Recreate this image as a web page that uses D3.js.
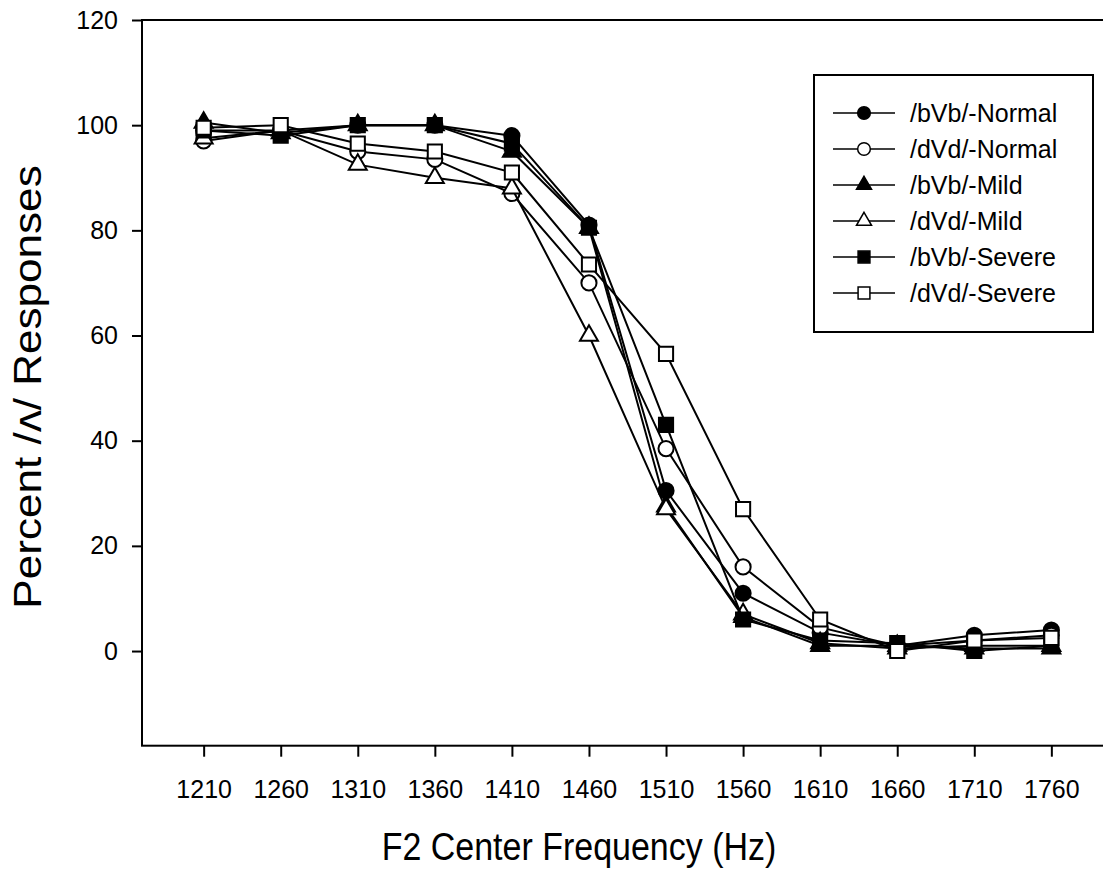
<!DOCTYPE html>
<html>
<head>
<meta charset="utf-8">
<script src="https://d3js.org/d3.v7.min.js"></script>
<style>
    body { margin: 0; background: #fff; }
    text { font-family: "Liberation Sans", Arial, sans-serif; fill: #000; }
</style>
</head>
<body>
<svg id="drawing_region"></svg>
<script>
// F2 center frequencies (Hz)
const freqs = [1210, 1260, 1310, 1360, 1410, 1460, 1510, 1560, 1610, 1660, 1710, 1760];

// percent /ʌ/ responses per condition
const bVbNormal = [99, 99, 100, 100, 98, 81, 30.5, 11, 3.5, 1, 3, 4];
const dVdNormal = [97, 99, 95, 93.5, 87, 70, 38.5, 16, 4.5, 1, 2, 3];
const bVbMild   = [100.5, 98.5, 100, 100, 95, 80.5, 27.5, 6.5, 1, 1, 0.5, 0.5];
const dVdMild   = [97.5, 99, 92.5, 90, 88, 60, 27, 7, 1.5, 0.5, 1, 1];
const bVbSevere = [99, 98, 100, 100, 96.5, 80.5, 43, 6, 2, 1.5, 0, 1];
const dVdSevere = [99.5, 100, 96.5, 95, 91, 73.5, 56.5, 27, 6, 0, 2, 2.5];

const seriesNames = ["/bVb/-Normal", "/dVd/-Normal", "/bVb/-Mild", "/dVd/-Mild", "/bVb/-Severe", "/dVd/-Severe"];
const seriesValues = [bVbNormal, dVdNormal, bVbMild, dVdMild, bVbSevere, dVdSevere];
const yTicks = [0, 20, 40, 60, 80, 100, 120];

// marker look per series: shape + filled?
const markers = [
    {shape: d3.symbolCircle,   size: 180, fill: "#000"},
    {shape: d3.symbolCircle,   size: 180, fill: "#fff"},
    {shape: d3.symbolTriangle, size: 140, fill: "#000"},
    {shape: d3.symbolTriangle, size: 140, fill: "#fff"},
    {shape: d3.symbolSquare,   size: 200, fill: "#000"},
    {shape: d3.symbolSquare,   size: 200, fill: "#fff"}
];

class LineChart {

    constructor( config, data ) {
        this.config = config;
        this.data = data;
        this.init();
    }

    init() {
        let self = this;

        self.svg = d3.select( self.config.parent )
            .attr('width', self.config.width)
            .attr('height', self.config.height);

        self.chart = self.svg.append('g')
            .attr('transform', `translate(${self.config.margin.left}, ${self.config.margin.top})`);

        self.inner_width = self.config.plot_width;
        self.inner_height = self.config.plot_height;

        self.xscale = d3.scaleLinear()
            .domain( [1170, 1800] )
            .range( [0, self.inner_width] );

        self.yscale = d3.scaleLinear()
            .domain( [-18, 120] )
            .range( [self.inner_height, 0] );

        self.xaxis = d3.axisBottom( self.xscale )
            .tickValues( freqs )
            .tickFormat( d3.format('d') )
            .tickSize(11)
            .tickPadding(24)
            .tickSizeOuter(0);

        self.yaxis = d3.axisLeft( self.yscale )
            .tickValues( yTicks )
            .tickSize(10)
            .tickPadding(14)
            .tickSizeOuter(0);
    }

    render() {
        let self = this;

        // frame (right side runs off the page)
        self.chart.append('rect')
            .attr('x', 0)
            .attr('y', 0)
            .attr('width', self.inner_width)
            .attr('height', self.inner_height)
            .attr('fill', 'none')
            .attr('stroke', '#000')
            .attr('stroke-width', 2);

        const xg = self.chart.append('g')
            .attr('transform', `translate(0, ${self.inner_height})`)
            .call( self.xaxis );

        const yg = self.chart.append('g')
            .call( self.yaxis );

        [xg, yg].forEach( g => {
            g.select('.domain').remove();
            g.selectAll('line').attr('stroke', '#000').attr('stroke-width', 2);
            g.selectAll('text')
                .attr('font-size', '25px')
                .attr('font-family', '"Liberation Sans", Arial, sans-serif')
                .attr('fill', '#000');
        });

        const line = d3.line()
            .x( d => self.xscale(d.x) )
            .y( d => self.yscale(d.y) );

        self.data.forEach( (s, i) => {
            const pts = s.values.map( (v, j) => ({x: freqs[j], y: v}) );
            self.chart.append('path')
                .attr('d', line(pts))
                .attr('fill', 'none')
                .attr('stroke', '#000')
                .attr('stroke-width', 2);

            const sym = d3.symbol().type(markers[i].shape).size(markers[i].size);
            self.chart.selectAll(null)
                .data(pts)
                .enter()
                .append('path')
                .attr('d', sym)
                .attr('transform', d => `translate(${self.xscale(d.x)}, ${self.yscale(d.y)})`)
                .attr('fill', markers[i].fill)
                .attr('stroke', '#000')
                .attr('stroke-width', 2);
        });

        // legend
        const lg = self.svg.append('g')
            .attr('transform', 'translate(814, 75)');

        lg.append('rect')
            .attr('width', 279)
            .attr('height', 257)
            .attr('fill', '#fff')
            .attr('stroke', '#000')
            .attr('stroke-width', 2);

        const rows = lg.selectAll('g.row')
            .data(self.data)
            .enter()
            .append('g')
            .attr('class', 'row')
            .attr('transform', (d, i) => `translate(0, ${38 + i * 36})`);

        rows.append('line')
            .attr('x1', 19)
            .attr('x2', 81)
            .attr('stroke', '#000')
            .attr('stroke-width', 1.5);

        rows.append('path')
            .attr('d', (d, i) => d3.symbol().type(markers[i].shape).size(markers[i].size * 0.7)())
            .attr('transform', 'translate(50, 0)')
            .attr('fill', (d, i) => markers[i].fill)
            .attr('stroke', '#000')
            .attr('stroke-width', 1.5);

        rows.append('text')
            .attr('x', 96)
            .attr('dy', '0.35em')
            .attr('font-size', '25px')
            .text( d => d.name );

        // axis titles
        self.svg.append('text')
            .attr('transform', 'translate(579, 860) scale(1, 1.12)')
            .attr('text-anchor', 'middle')
            .attr('font-size', '34px')
            .text('F2 Center Frequency (Hz)');

        self.svg.append('text')
            .attr('transform', 'translate(41, 387) rotate(-90) scale(1.16, 1)')
            .attr('text-anchor', 'middle')
            .attr('font-size', '38px')
            .text('Percent /ʌ/ Responses');
    }
}

const config = {
    parent: '#drawing_region',
    width: 1103,
    height: 886,
    margin: {top: 20, left: 142},
    plot_width: 971,
    plot_height: 725.7
};

const data = seriesNames.map( (name, i) => ({name: name, values: seriesValues[i]}) );
const chart = new LineChart( config, data );
chart.render();
</script>
</body>
</html>
